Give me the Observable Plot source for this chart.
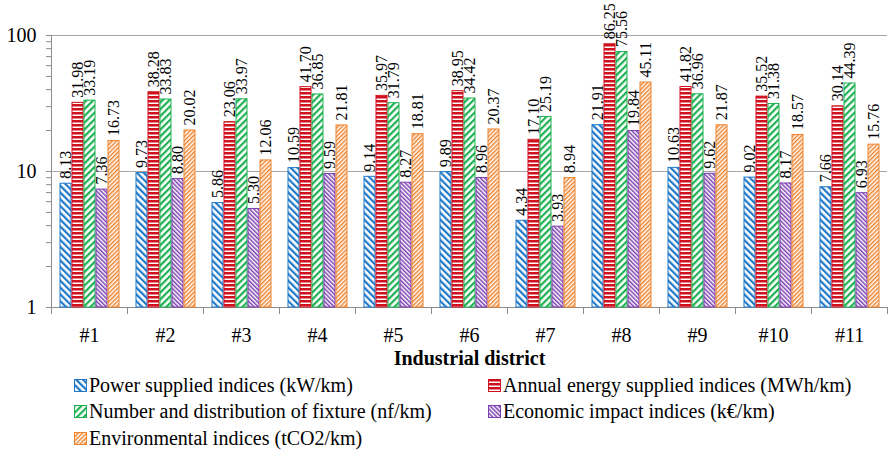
<!DOCTYPE html>
<html><head><meta charset="utf-8">
<script src="https://cdn.jsdelivr.net/npm/d3@7"></script>
<script src="https://cdn.jsdelivr.net/npm/@observablehq/plot@0.6"></script>
<style>
body{margin:0;background:#fff;font-family:'Liberation Serif','Times New Roman',serif;}
#chart svg{display:block}
[aria-label="fx-axis label"] text{font-weight:bold;font-size:20px}
.legend{position:relative;height:80px;font-size:20px;color:#000}
.item{position:absolute;display:flex;align-items:center;white-space:nowrap;height:26px}
.item svg{margin-right:2px;display:block}
</style></head><body>
<div id="chart"></div>
<div class="legend" id="legend"></div>
<script>
const districts = ["#1","#2","#3","#4","#5","#6","#7","#8","#9","#10","#11"];
const seriesNames = [
  "Power supplied indices (kW/km)",
  "Annual energy supplied indices (MWh/km)",
  "Number and distribution of fixture (nf/km)",
  "Economic impact indices (k€/km)",
  "Environmental indices (tCO2/km)"
];
const power       = [8.13, 9.73, 5.86, 10.59, 9.14, 9.89, 4.34, 21.91, 10.63, 9.02, 7.66];
const energy      = [31.98, 38.28, 23.06, 41.70, 35.97, 38.95, 17.10, 86.25, 41.82, 35.52, 30.14];
const fixture     = [33.19, 33.83, 33.97, 36.85, 31.79, 34.42, 25.19, 75.56, 36.96, 31.38, 44.39];
const economic    = [7.36, 8.80, 5.30, 9.59, 8.27, 8.96, 3.93, 19.84, 9.62, 8.17, 6.93];
const environment = [16.73, 20.02, 12.06, 21.81, 18.81, 20.37, 8.94, 45.11, 21.87, 18.57, 15.76];
const yMajor = [1, 10, 100];
const yMinor = [2,3,4,5,6,7,8,9,20,30,40,50,60,70,80,90];

// styles
const colors = ["#1f78c8", "#d0101c", "#1db151", "#7b3fb0", "#f0832e"];
const patterns = [
  {angle: -45, size: 4.8, line: 2.2},
  {angle: 0, size: 4, line: 2.5, horizontal: true},
  {angle: 45, size: 4.8, line: 2.2},
  {angle: -45, size: 3, line: 1.5},
  {angle: 45, size: 3, line: 1.5}
];

const seriesValues = [power, energy, fixture, economic, environment];
const rows = [];
seriesNames.forEach((s, i) => districts.forEach((d, j) => rows.push({district: d, series: s, si: i, value: seriesValues[i][j]})));

const H = 370, MT = 35, MB = 63;
const innerH = H - MT - MB;
const font = "'Liberation Serif','Times New Roman',serif";

const plot = Plot.plot({
  width: 890, height: H,
  marginTop: MT, marginBottom: MB, marginLeft: 49, marginRight: 1,
  style: {fontFamily: font, fontSize: "16px", background: "#fff"},
  fx: {domain: districts, padding: 0},
  x: {domain: seriesNames, paddingInner: 0.12, paddingOuter: 0.635, axis: null},
  y: {type: "log", domain: [1, 100]},
  marks: [
    Plot.ruleY([10, 100], {stroke: "#a6a6a6", strokeWidth: 1}),
    Plot.ruleY([1], {stroke: "#8c8c8c", strokeWidth: 1}),
    Plot.frame({anchor: "left", facetAnchor: "left", stroke: "#8c8c8c"}),
    Plot.frame({anchor: "left", insetTop: innerH, insetBottom: -6, stroke: "#8c8c8c"}),
    Plot.frame({anchor: "right", insetTop: innerH, insetBottom: -6, stroke: "#8c8c8c"}),
    ...seriesNames.map((s, i) => Plot.barY(rows.filter(r => r.si === i), {
      fx: "district", x: "series", y1: () => 1, y2: "value",
      fill: `url(#pat${i})`, stroke: colors[i], strokeWidth: 1
    })),
    Plot.text(rows, {
      fx: "district", x: "series", y: "value", text: d => d.value.toFixed(2),
      rotate: -90, textAnchor: "start", dy: -5, fontSize: 16, fill: "#000"
    }),
    Plot.axisY({ticks: yMajor, tickSize: 5, tickPadding: 10, fontSize: 20, label: null,
      tickFormat: d => String(d), stroke: "#8c8c8c", fill: "#000"}),
    Plot.axisY({ticks: yMinor, tickSize: 5, tickFormat: () => "", label: null, stroke: "#8c8c8c"}),
    Plot.axisFx({anchor: "bottom", tickSize: 0, tickPadding: 20, fontSize: 20,
      label: "Industrial district", labelAnchor: "center", labelOffset: 57, fill: "#000"})
  ]
});

// pattern definitions
const svg = d3.select(plot);
const defs = svg.insert("defs", ":first-child");
patterns.forEach((p, i) => {
  const pat = defs.append("pattern").attr("id", `pat${i}`)
    .attr("patternUnits", "userSpaceOnUse")
    .attr("width", p.size).attr("height", p.size);
  if (p.angle) pat.attr("patternTransform", `rotate(${p.angle})`);
  pat.append("rect").attr("width", p.size).attr("height", p.size).attr("fill", "#fff");
  if (p.horizontal) {
    pat.append("rect").attr("x", 0).attr("y", 0).attr("width", p.size).attr("height", p.line).attr("fill", colors[i]);
  } else {
    pat.append("rect").attr("x", 0).attr("y", 0).attr("width", p.line).attr("height", p.size).attr("fill", colors[i]);
  }
});
document.getElementById("chart").appendChild(plot);

// legend
const legendPos = [
  {left: 74, top: 2}, {left: 488, top: 2},
  {left: 74, top: 28.5}, {left: 488, top: 28.5},
  {left: 74, top: 55}
];
const legend = document.getElementById("legend");
seriesNames.forEach((s, i) => {
  const item = document.createElement("div");
  item.className = "item";
  item.style.left = legendPos[i].left + "px";
  item.style.top = legendPos[i].top + "px";
  item.innerHTML = `<svg width="13" height="13"><rect x="0.5" y="0.5" width="12" height="12" fill="url(#pat${i})" stroke="${colors[i]}"/></svg><span>${s}</span>`;
  legend.appendChild(item);
});
</script>
</body></html>
